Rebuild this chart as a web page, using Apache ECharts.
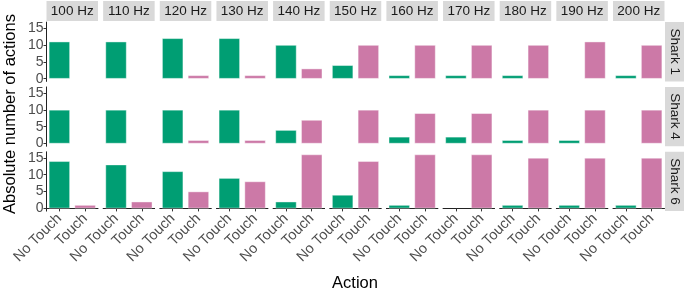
<!DOCTYPE html>
<html>
<head>
<meta charset="utf-8">
<script src="https://cdn.jsdelivr.net/npm/echarts@6/dist/echarts.min.js"></script>
<style>
  html, body { margin: 0; padding: 0; background: #fff; }
  #chart { width: 685px; height: 293px; }
</style>
</head>
<body>
<div id="chart"></div>
<script>
// facets
let freqs = ['100 Hz', '110 Hz', '120 Hz', '130 Hz', '140 Hz', '150 Hz', '160 Hz', '170 Hz', '180 Hz', '190 Hz', '200 Hz'];
let sharks = ['Shark 1', 'Shark 4', 'Shark 6'];
let actions = ['No Touch', 'Touch'];
let yTicks = [0, 5, 10, 15];

// counts per frequency
let noTouchShark1 = [11, 11, 12, 12, 10, 4, 1, 1, 1, 0, 1];
let touchShark1   = [0, 0, 1, 1, 3, 10, 10, 10, 10, 11, 10];
let noTouchShark4 = [10, 10, 10, 10, 4, 0, 2, 2, 1, 1, 0];
let touchShark4   = [0, 0, 1, 1, 7, 10, 9, 9, 10, 10, 10];
let noTouchShark6 = [14, 13, 11, 9, 2, 4, 1, 0, 1, 1, 1];
let touchShark6   = [1, 2, 5, 8, 16, 14, 16, 16, 15, 15, 15];

let noTouch = [noTouchShark1, noTouchShark4, noTouchShark6];
let touch = [touchShark1, touchShark4, touchShark6];
let colours = ['#009E73', '#CC79A7'];

let font = 'Liberation Sans, Arial, sans-serif';

// panel layout (px)
let left0 = 46.5, colStep = 56.65, panelW = 51.5;
let top0 = 22.1, rowStep = 64.85, panelH = 59.3;

let grids = [], xAxes = [], yAxes = [], series = [], graphics = [];

// zero bars get no outline so nothing shows
function bar(v)
{
    return v == 0 ? { value: v, itemStyle: { borderWidth: 0 } } : v;
}

for (let r = 0; r < sharks.length; r++)
{
    for (let c = 0; c < freqs.length; c++)
    {
        let idx = grids.length;
        let bottomRow = r == sharks.length - 1;
        let firstCol = c == 0;
        grids.push({
            left: left0 + c * colStep,
            top: top0 + r * rowStep,
            width: panelW,
            height: panelH,
            containLabel: false
        });
        xAxes.push({
            gridIndex: idx,
            type: 'category',
            data: actions,
            boundaryGap: true,
            axisLine: { show: bottomRow, lineStyle: { color: '#222', width: 1 } },
            axisTick: { show: bottomRow, alignWithLabel: true, length: 3, lineStyle: { color: '#333' } },
            axisLabel: {
                show: bottomRow,
                rotate: 45,
                interval: 0,
                margin: 5,
                fontSize: 14.5,
                fontFamily: font,
                color: '#4D4D4D'
            },
            splitLine: { show: false }
        });
        yAxes.push({
            gridIndex: idx,
            type: 'value',
            min: -0.8,
            max: 16.8,
            axisLine: { show: firstCol, lineStyle: { color: '#222', width: 1 } },
            axisTick: { show: firstCol, length: 3, customValues: yTicks, lineStyle: { color: '#333' } },
            axisLabel: {
                show: firstCol,
                customValues: yTicks,
                margin: 3,
                fontSize: 14,
                fontFamily: font,
                color: '#4D4D4D'
            },
            splitLine: { show: false }
        });
        series.push({
            type: 'bar',
            xAxisIndex: idx,
            yAxisIndex: idx,
            barWidth: '82%',
            data: [bar(noTouch[r][c]), bar(touch[r][c])],
            itemStyle: {
                color: p => colours[p.dataIndex],
                borderColor: 'rgba(255,255,255,0.7)',
                borderWidth: 0.6
            },
            silent: true
        });
    }
}

// top strips
freqs.forEach((f, c) => {
    graphics.push({
        type: 'rect',
        shape: { x: left0 + c * colStep, y: 1, width: panelW, height: 20 },
        style: { fill: '#D9D9D9' }
    });
    graphics.push({
        type: 'text',
        x: left0 + c * colStep + panelW / 2,
        y: 11,
        style: { text: f, fontSize: 13.5, fontFamily: font, fill: '#1A1A1A', align: 'center', verticalAlign: 'middle' }
    });
});

// right strips
sharks.forEach((s, r) => {
    graphics.push({
        type: 'rect',
        shape: { x: 665, y: top0 + r * rowStep, width: 19, height: panelH },
        style: { fill: '#D9D9D9' }
    });
    graphics.push({
        type: 'text',
        x: 674.5,
        y: top0 + r * rowStep + panelH / 2,
        rotation: -Math.PI / 2,
        style: { text: s, fontSize: 13.5, fontFamily: font, fill: '#1A1A1A', align: 'center', verticalAlign: 'middle' }
    });
});

// axis titles
graphics.push({
    type: 'text',
    x: 10,
    y: 114,
    rotation: Math.PI / 2,
    style: { text: 'Absolute number of actions', fontSize: 16.5, fontFamily: font, fill: '#000', align: 'center', verticalAlign: 'middle' }
});
graphics.push({
    type: 'text',
    x: 355,
    y: 283,
    style: { text: 'Action', fontSize: 16.5, fontFamily: font, fill: '#000', align: 'center', verticalAlign: 'middle' }
});

let myChart = echarts.init(document.getElementById('chart'), null, { renderer: 'canvas' });
let option = {
    animation: false,
    backgroundColor: '#fff',
    grid: grids,
    xAxis: xAxes,
    yAxis: yAxes,
    series: series,
    graphic: graphics
};
myChart.setOption(option);
</script>
</body>
</html>
